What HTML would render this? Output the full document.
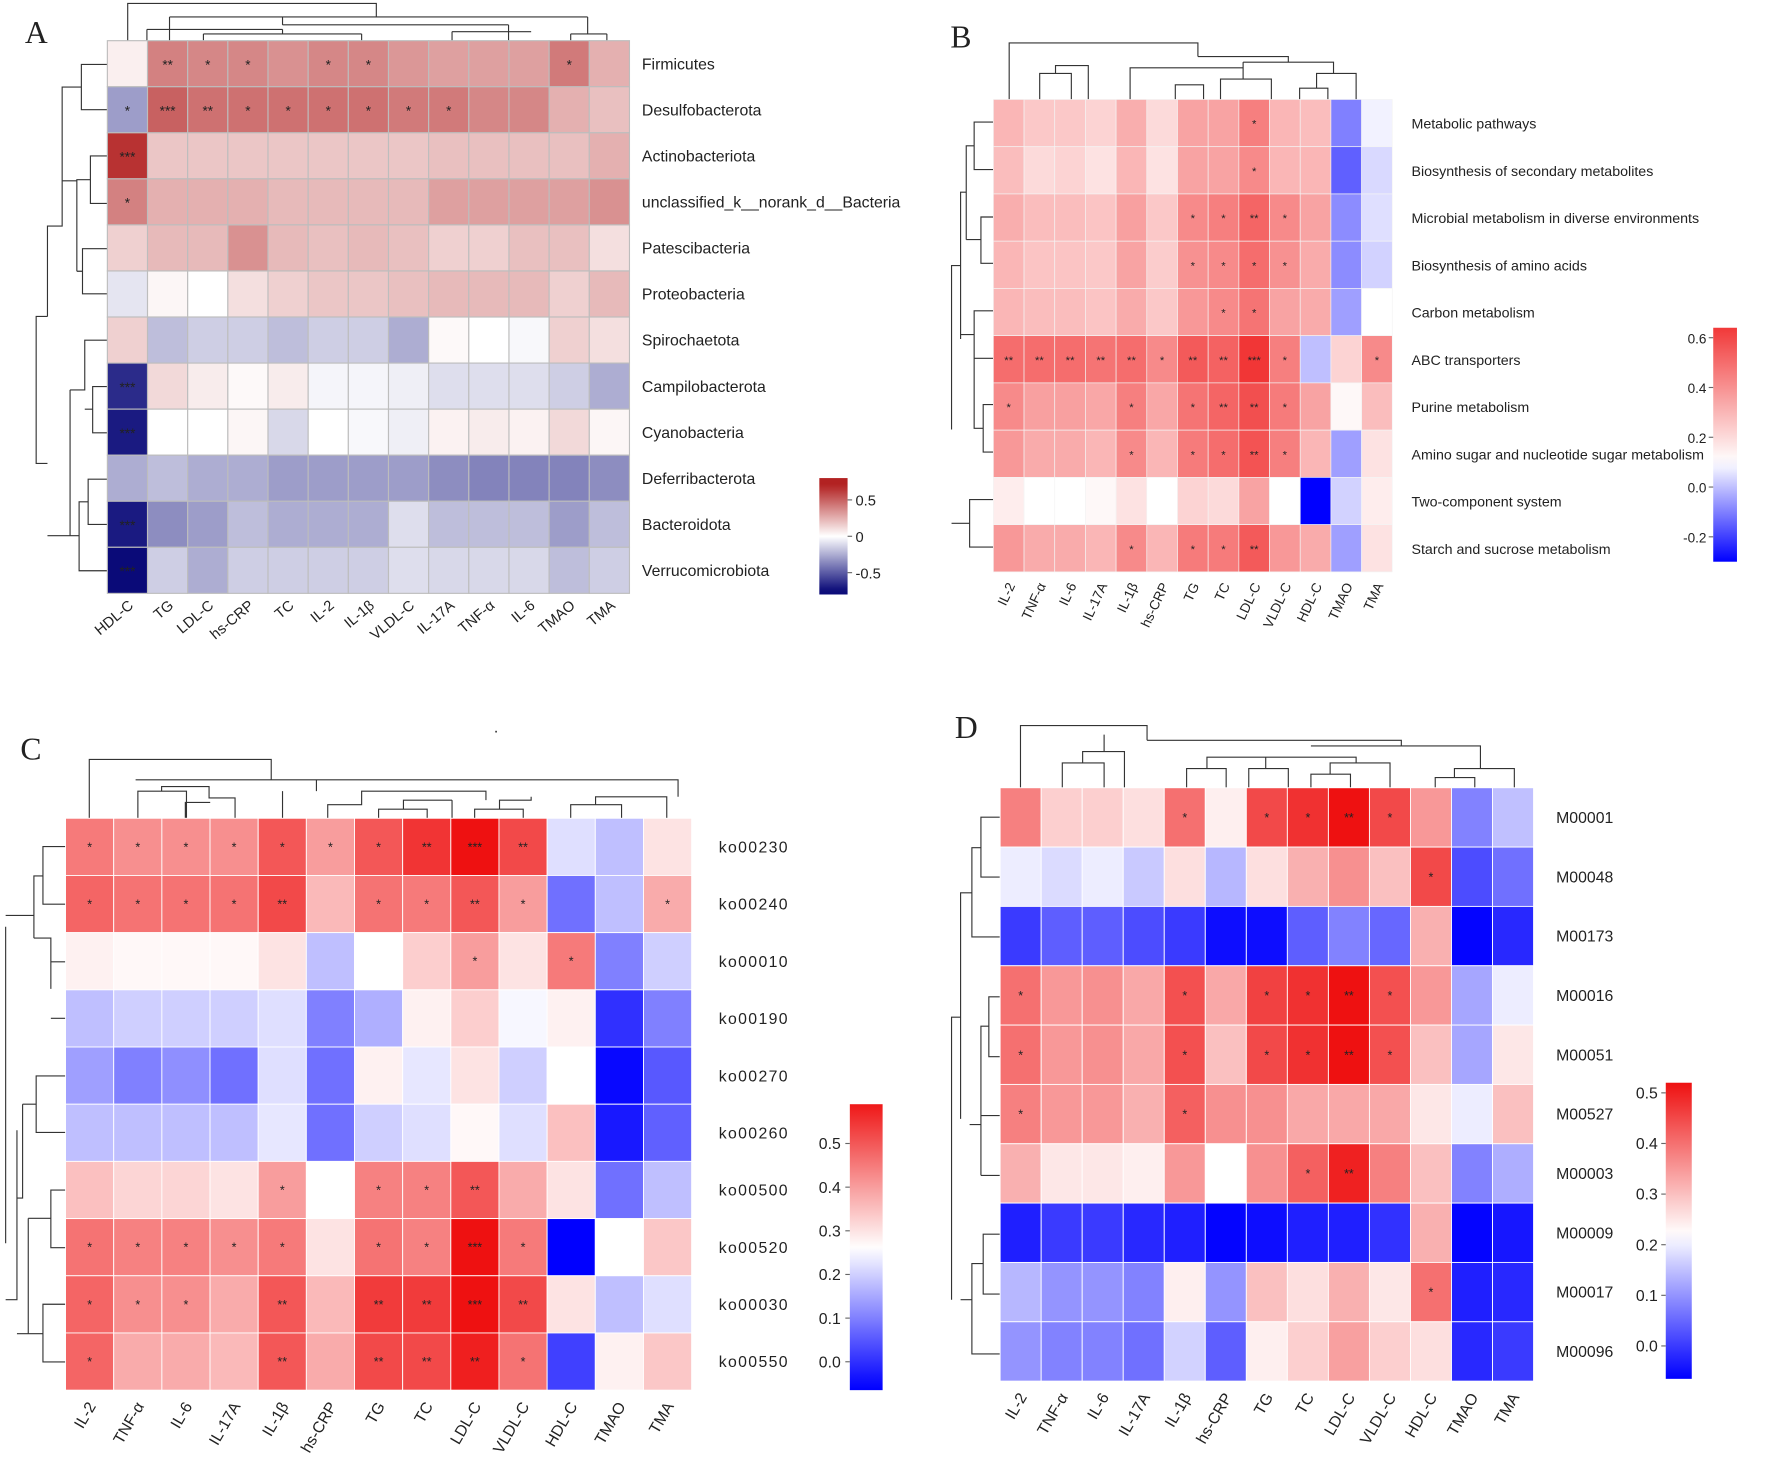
<!DOCTYPE html>
<html><head><meta charset="utf-8"><style>
html,body{margin:0;padding:0;background:#fff}
svg{display:block}
text{font-family:"Liberation Sans",sans-serif;fill:#222}
</style></head><body>
<svg id="fig" width="1772" height="1467" viewBox="0 0 1568 1298" preserveAspectRatio="none" xmlns="http://www.w3.org/2000/svg">
<defs id="defs"></defs>
<g font-family="Liberation Serif" font-size="28">
<text x="22" y="38" style="font-family:'Liberation Serif',serif">A</text>
<text x="841" y="42" style="font-family:'Liberation Serif',serif">B</text>
<text x="18" y="672" style="font-family:'Liberation Serif',serif">C</text>
<text x="845" y="653" style="font-family:'Liberation Serif',serif">D</text>
<text x="437" y="648" font-size="14">.</text>
</g>
<g fill="none" stroke="#333" stroke-width="1">
<path d="M113,36V3H333V15 M150,15H520 M150,15V36 M520,15V30 M505,30V36 M537,30V36 M505,30H537 M150,15V26 M130,26H250 M130,26V36 M250,26V30 M180,30H320 M180,30V36 M320,30V36 M320,30 M250,15V22 M250,22H450 M450,22V36 M400,28H470 M400,28V36"/>
<path d="M95,57H72V97H95 M72,77H55V160 M95,138H80V180H95 M80,159H68V200 M95,220H73V260H95 M73,240H68 M68,200V240 M68,160H55 M55,120V200H42V280 M95,301H75V335 M95,342H82V383H95 M82,362H75 M75,335V345H62 M95,424H78V464H95 M78,444H70V505H95 M70,474H62 M62,345V474H42 M42,280H32V410H42"/>
<path d="M893,88V38H1060V50 M920,88V65H948V88 M934,65V58H963V88 M948,58 M1000,88V60H1100V55 M1040,88V75H1065V88 M1080,88V70H1125V88 M1100,70V60 M1150,88V78H1175V88 M1165,78V65H1200V88 M1100,55H1180V65 M1060,50H1140V55"/>
<path d="M879,108H862V150H879 M862,129H855V212 M879,192H868V233H879 M868,212H855 M855,170H850V300 M879,275H862V317H879 M879,358H870V400H879 M870,379H862V300 M862,296H850 M850,235H842V380 M879,442H858V484H879 M858,463H842"/>
<path d="M79,724V672H240V690 M122,724V700H165V724 M143,700V696H185V706H208V724 M164,724V710H186 M120,690H280V700 M250,724V700 M290,724V712H320V700H430V708 M335,724V716H378V724 M357,716V708H400 M400,724V708 M420,724V716H463V724 M442,716V708H470V705 M505,724V712H550V724 M527,712V705H590V724 M280,700V690H600V705"/>
<path d="M58,749H38V800H58 M38,775H30V830 M58,851H45V875 M30,830H45V875 M58,901H45 M58,952H32V1002H58 M32,977H20 M58,1053H45V1104H58 M58,1154H38V1205H58 M45,1078H25 M38,1180H25 M25,1078V1180H15 M20,977V1060H15 M15,1000V1150H5 M5,820V1100 M30,810H5"/>
<path d="M903,697V642H1015V655 M940,697V675H977V697 M958,675V665H995V697 M977,665V650 M1050,697V680H1085V697 M1068,680V670H1120V680 M1105,697V680H1140V697 M1160,697V685H1195V697 M1177,685V675H1230V697 M1120,670H1200V675 M1270,697V688H1305V697 M1287,688V680H1340V697 M1160,660H1310V680 M1015,655H1240V660"/>
<path d="M885,723H868V776H885 M868,750H860V829H885 M885,882H875V935H885 M875,908H868V987H885 M885,1040H868 M868,948V1040 M868,995H858 M860,790H850V990 M885,1092H870V1145H885 M870,1118H860V1198H885 M860,1150H850 M850,900H842V1150"/>
</g>
<g id="layer"></g>
</svg>
<script>
// ---------- Panel A data ----------
const colsA = ["HDL-C","TG","LDL-C","hs-CRP","TC","IL-2","IL-1β","VLDL-C","IL-17A","TNF-α","IL-6","TMAO","TMA"];
const rowsA = ["Firmicutes","Desulfobacterota","Actinobacteriota","unclassified_k__norank_d__Bacteria","Patescibacteria","Proteobacteria","Spirochaetota","Campilobacterota","Cyanobacteria","Deferribacterota","Bacteroidota","Verrucomicrobiota"];
const valsA = [
[0.05,0.4,0.38,0.38,0.35,0.38,0.38,0.33,0.3,0.3,0.3,0.42,0.25],
[-0.3,0.5,0.45,0.45,0.45,0.45,0.45,0.42,0.42,0.38,0.38,0.25,0.2],
[0.65,0.18,0.18,0.18,0.18,0.18,0.18,0.18,0.2,0.2,0.2,0.2,0.25],
[0.4,0.25,0.25,0.25,0.22,0.22,0.22,0.22,0.3,0.3,0.3,0.3,0.35],
[0.15,0.22,0.22,0.35,0.22,0.2,0.22,0.2,0.15,0.15,0.2,0.2,0.1],
[-0.08,0.03,0,0.1,0.15,0.18,0.18,0.2,0.22,0.22,0.22,0.15,0.22],
[0.15,-0.2,-0.15,-0.15,-0.2,-0.15,-0.15,-0.25,0.02,0,-0.02,0.15,0.1],
[-0.65,0.12,0.06,0.02,0.06,-0.03,-0.03,-0.05,-0.1,-0.1,-0.1,-0.15,-0.25],
[-0.7,0,0,0.03,-0.12,0,-0.02,-0.05,0.04,0.06,0.04,0.12,0.03],
[-0.25,-0.2,-0.25,-0.25,-0.3,-0.3,-0.3,-0.3,-0.35,-0.38,-0.38,-0.38,-0.35],
[-0.7,-0.35,-0.3,-0.2,-0.25,-0.25,-0.25,-0.1,-0.2,-0.2,-0.2,-0.3,-0.2],
[-0.75,-0.15,-0.25,-0.15,-0.15,-0.15,-0.15,-0.1,-0.12,-0.12,-0.12,-0.2,-0.15]];
const starsA = [
["","**","*","*","","*","*","","","","","*",""],
["*","***","**","*","*","*","*","*","*","","","",""],
["***","","","","","","","","","","","",""],
["*","","","","","","","","","","","",""],
[],[],[],
["***"],["***"],[],["***"],["***"]];
const ticksA = [0.5,0,-0.5];
// ---------- Panel B data ----------
const colsBCD = ["IL-2","TNF-α","IL-6","IL-17A","IL-1β","hs-CRP","TG","TC","LDL-C","VLDL-C","HDL-C","TMAO","TMA"];
const rowsB = ["Metabolic pathways","Biosynthesis of secondary metabolites","Microbial metabolism in diverse environments","Biosynthesis of amino acids","Carbon metabolism","ABC transporters","Purine metabolism","Amino sugar and nucleotide sugar metabolism","Two-component system","Starch and sucrose metabolism"];
const valsB = [
[0.3,0.25,0.25,0.22,0.32,0.2,0.35,0.35,0.45,0.3,0.28,-0.1,0.08],
[0.28,0.2,0.22,0.18,0.3,0.18,0.35,0.35,0.42,0.3,0.3,-0.15,0.04],
[0.32,0.28,0.28,0.26,0.36,0.25,0.42,0.45,0.52,0.42,0.35,-0.08,0.05],
[0.3,0.26,0.26,0.25,0.35,0.24,0.4,0.42,0.5,0.4,0.33,-0.08,0.03],
[0.3,0.28,0.28,0.26,0.33,0.25,0.38,0.42,0.48,0.35,0.33,-0.05,0.1],
[0.5,0.5,0.5,0.48,0.5,0.42,0.55,0.53,0.65,0.45,0.0,0.22,0.42],
[0.42,0.36,0.36,0.34,0.45,0.34,0.48,0.52,0.58,0.46,0.35,0.12,0.28],
[0.38,0.33,0.33,0.3,0.42,0.3,0.46,0.5,0.57,0.45,0.3,-0.05,0.18],
[0.15,0.1,0.1,0.12,0.18,0.1,0.22,0.2,0.35,0.1,-0.35,0.03,0.15],
[0.38,0.33,0.33,0.3,0.42,0.3,0.46,0.46,0.55,0.38,0.33,-0.05,0.18]];
const starsB = [
["","","","","","","","","*"],
["","","","","","","","","*"],
["","","","","","","*","*","**","*"],
["","","","","","","*","*","*","*"],
["","","","","","","","*","*"],
["**","**","**","**","**","*","**","**","***","*","","","*"],
["*","","","","*","","*","**","**","*"],
["","","","","*","","*","*","**","*"],
[],
["","","","","*","","*","*","**"]];
const ticksB = [0.6,0.4,0.2,0.0,-0.2];
// ---------- Panel C data ----------
const rowsC = ["ko00230","ko00240","ko00010","ko00190","ko00270","ko00260","ko00500","ko00520","ko00030","ko00550"];
const valsC = [
[.45,.42,.42,.42,.5,.4,.5,.55,.6,.52,.22,.18,.3],
[.48,.46,.46,.46,.52,.36,.46,.45,.5,.4,.08,.18,.38],
[.28,.27,.27,.27,.3,.18,.26,.33,.4,.3,.45,.1,.2],
[.18,.2,.2,.2,.22,.1,.16,.28,.33,.25,.28,0,.1],
[.14,.1,.12,.08,.22,.08,.28,.23,.3,.2,.26,-.05,.05],
[.18,.18,.18,.18,.23,.08,.2,.22,.27,.22,.35,-.03,.06],
[.35,.32,.32,.3,.4,.26,.44,.44,.5,.38,.3,.08,.18],
[.46,.44,.44,.42,.45,.3,.46,.44,.6,.45,-.06,.26,.34],
[.48,.42,.42,.38,.5,.36,.54,.54,.6,.52,.3,.18,.22],
[.48,.38,.38,.36,.5,.38,.52,.52,.58,.46,.02,.28,.34]];
const starsC = [
["*","*","*","*","*","*","*","**","***","**"],
["*","*","*","*","**","","*","*","**","*","","","*"],
["","","","","","","","","*","","*"],
[],[],[],
["","","","","*","","*","*","**"],
["*","*","*","*","*","","*","*","***","*"],
["*","*","*","","**","","**","**","***","**"],
["*","","","","**","","**","**","**","*"]];
const ticksC = [0.5,0.4,0.3,0.2,0.1,0.0];
// ---------- Panel D data ----------
const rowsD = ["M00001","M00048","M00173","M00016","M00051","M00527","M00003","M00009","M00017","M00096"];
const valsD = [
[.38,.28,.28,.26,.4,.24,.45,.48,.52,.45,.35,.08,.15],
[.2,.18,.2,.16,.26,.14,.26,.32,.36,.3,.45,.02,.06],
[0,.04,.04,.02,0,-.05,-.05,.04,.08,.05,.32,-.06,-.02],
[.4,.35,.36,.33,.44,.33,.46,.48,.52,.44,.35,.12,.2],
[.4,.35,.36,.33,.44,.3,.45,.48,.52,.44,.3,.12,.25],
[.38,.35,.35,.32,.42,.36,.36,.33,.33,.33,.25,.2,.3],
[.32,.25,.25,.24,.35,.22,.36,.42,.5,.38,.3,.08,.13],
[-.03,0,0,-.02,-.03,-.06,-.05,-.03,-.03,-.01,.32,-.06,-.04],
[.14,.1,.1,.08,.24,.1,.3,.26,.32,.25,.4,-.03,-.02],
[.1,.08,.08,.06,.17,.04,.24,.28,.34,.28,.26,-.02,0]];
const starsD = [
["","","","","*","","*","*","**","*"],
["","","","","","","","","","","*"],
[],
["*","","","","*","","*","*","**","*"],
["*","","","","*","","*","*","**","*"],
["*","","","","*"],
["","","","","","","","*","**"],
[],
["","","","","","","","","","","*"],
[]];
const ticksD = [0.5,0.4,0.3,0.2,0.1,0.0];

const NS="http://www.w3.org/2000/svg";
const layer=document.getElementById('layer');
const defs=document.getElementById('defs');
function mk(tag,attrs,parent){const e=document.createElementNS(NS,tag);for(const k in attrs)e.setAttribute(k,attrs[k]);(parent||layer).appendChild(e);return e;}
function hex(c){return [parseInt(c.slice(1,3),16),parseInt(c.slice(3,5),16),parseInt(c.slice(5,7),16)];}
function makeScale(lo,mid,hi,cLo,cHi){
  const a=hex(cLo),b=hex(cHi),w=[255,255,255];
  return v=>{let t,p,q;if(v<mid){t=Math.max(0,Math.min(1,(mid-v)/(mid-lo)));p=w;q=a;}else{t=Math.max(0,Math.min(1,(v-mid)/(hi-mid)));p=w;q=b;}
    return `rgb(${Math.round(p[0]+(q[0]-p[0])*t)},${Math.round(p[1]+(q[1]-p[1])*t)},${Math.round(p[2]+(q[2]-p[2])*t)})`;};
}
function panel(cfg){
  const g=mk('g',{});
  
  
  const nR=cfg.rows.length,nC=cfg.cols.length;
  const cw=(cfg.x1-cfg.x0)/nC,ch=(cfg.y1-cfg.y0)/nR;
  const xOf=j=>cfg.x0+j*cw, yOf=i=>cfg.y0+i*ch;
  cfg.vals.forEach((row,i)=>row.forEach((v,j)=>{
    const r=mk('rect',{x:xOf(j),y:yOf(i),width:cw,height:ch,fill:cfg.scale(v),stroke:cfg.stroke,'stroke-width':cfg.sw},g);
    
    
    const s=(cfg.stars[i]||[])[j];
    if(s){const t=mk('text',{x:xOf(j)+cw/2,y:yOf(i)+ch/2+cfg.starDy,'text-anchor':'middle','font-size':cfg.starFs,fill:'#333'},g);t.textContent=s;
      
      }
  }));
  cfg.rows.forEach((lab,i)=>{const t=mk('text',{x:cfg.x1+cfg.rowGap,y:yOf(i)+ch/2+5,'font-size':cfg.rowFs,'letter-spacing':cfg.ls||0},g);t.textContent=lab;
    
    });
  cfg.cols.forEach((lab,j)=>{const cx=xOf(j)+cw/2+6,cy=cfg.y1+cfg.colGap;
    const t=mk('text',{x:cx,y:cy,'text-anchor':'end','font-size':cfg.colFs,transform:`rotate(${cfg.rot} ${cx} ${cy})`},g);t.textContent=lab;
    
    });
  const L=cfg.leg, id=cfg.name+'-grad';
  const gr=mk('linearGradient',{id:id,x1:0,y1:1,x2:0,y2:0},defs);
  for(let k=0;k<=20;k++){const v=L.vBot+(L.vTop-L.vBot)*k/20;mk('stop',{offset:k/20,'stop-color':cfg.scale(v)},gr);}
  const lg=mk('g',{},g);
  
  
  mk('rect',{x:L.x,y:L.y0,width:L.w,height:L.y1-L.y0,fill:`url(#${id})`},lg);
  const yv=v=>L.y1-(v-L.vBot)/(L.vTop-L.vBot)*(L.y1-L.y0);
  cfg.ticks.forEach(v=>{const y=yv(v);
    mk('line',{x1:L.tickSide>0?L.x+L.w:L.x-4,x2:L.tickSide>0?L.x+L.w+4:L.x,y1:y,y2:y,stroke:'#666'},lg);
    const t=mk('text',{x:L.tx,y:y+5,'text-anchor':L.anchor,'font-size':L.fs},lg);t.textContent=(L.fmt?v.toFixed(1):String(v));
    
    });
}
panel({name:'panel-a',rows:rowsA,cols:colsA,vals:valsA,stars:starsA,ticks:ticksA,x0:95,x1:557,y0:36,y1:525,
  scale:makeScale(-0.75,0,0.7,'#0a0a78','#b22222'),stroke:'#bdbdbd',sw:1,starFs:12,starDy:5,rowFs:14,rowGap:11,colFs:13,colGap:12,rot:-40,
  leg:{x:725,w:25,y0:423,y1:526,vTop:0.8,vBot:-0.8,tx:757,anchor:'start',fs:13,tickSide:1}});
panel({name:'panel-b',rows:rowsB,cols:colsBCD,vals:valsB,stars:starsB,ticks:ticksB,x0:879,x1:1232,y0:88,y1:506,
  scale:makeScale(-0.3,0.1,0.75,'#0000ff','#ee1111'),stroke:'#f4f4f4',sw:0.6,starFs:10,starDy:4,rowFs:12.6,rowGap:17,colFs:12,colGap:12,rot:-65,
  leg:{x:1516,w:21,y0:290,y1:497,vTop:0.64,vBot:-0.3,tx:1510,anchor:'end',fs:12,tickSide:-1,fmt:1}});
panel({name:'panel-c',rows:rowsC,cols:colsBCD,vals:valsC,stars:starsC,ticks:ticksC,x0:58,x1:612,y0:724,y1:1230,
  scale:makeScale(-0.06,0.26,0.6,'#0000ff','#ee1111'),stroke:'#ffffff',sw:0.8,starFs:11,starDy:4,rowFs:14,rowGap:24,ls:1.2,colFs:14,colGap:14,rot:-60,
  leg:{x:752,w:29,y0:977,y1:1230,vTop:0.59,vBot:-0.065,tx:744,anchor:'end',fs:14,tickSide:-1,fmt:1}});
panel({name:'panel-d',rows:rowsD,cols:colsBCD,vals:valsD,stars:starsD,ticks:ticksD,x0:885,x1:1357,y0:697,y1:1222,
  scale:makeScale(-0.065,0.22,0.52,'#0000ff','#ee1111'),stroke:'#ffffff',sw:0.8,starFs:11,starDy:4,rowFs:14,rowGap:20,colFs:14,colGap:14,rot:-60,
  leg:{x:1474,w:23,y0:958,y1:1220,vTop:0.52,vBot:-0.065,tx:1467,anchor:'end',fs:14,tickSide:-1,fmt:1}});
</script>
</body></html>
